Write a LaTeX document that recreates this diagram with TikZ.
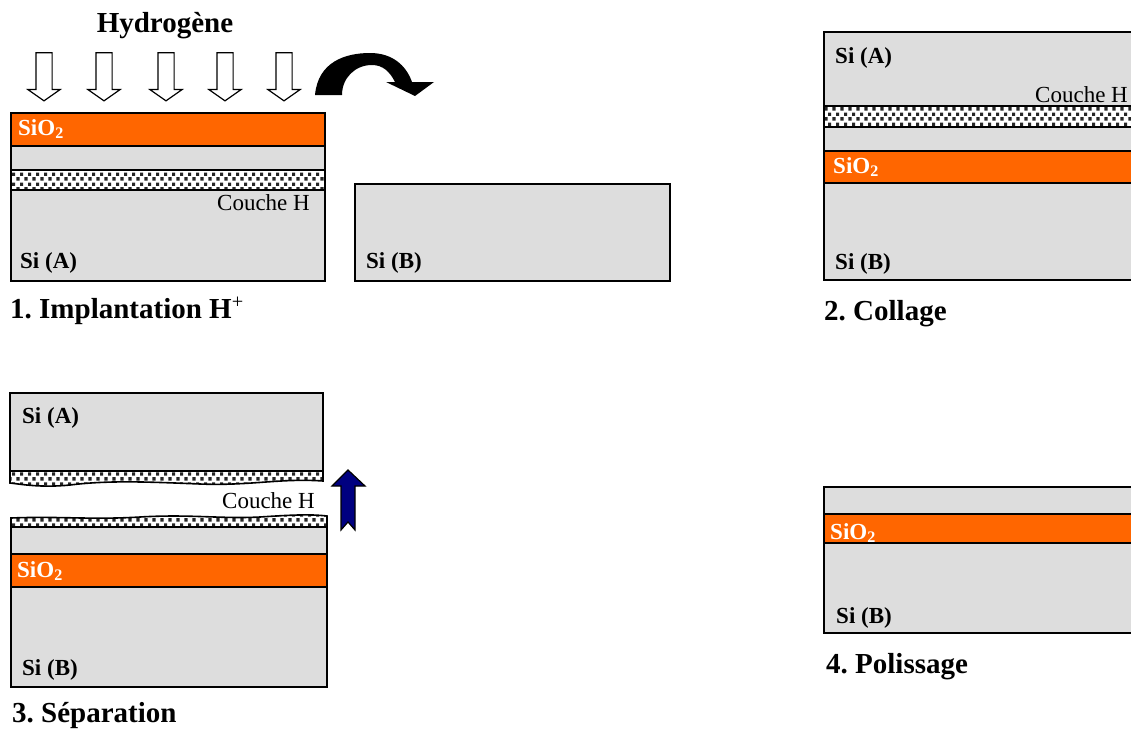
\documentclass[tikz,border=0pt]{standalone}
\usepackage{fontspec}
\setmainfont{Liberation Serif}
\usepackage{tikz}
\usetikzlibrary{shapes.arrows,patterns.meta}
\definecolor{sigray}{HTML}{DDDDDD}
\definecolor{oxorange}{HTML}{FF6600}
\definecolor{pushblue}{HTML}{000080}
\newcommand{\lblsize}{\fontsize{23}{26}\selectfont}
\newcommand{\ttlsize}{\fontsize{29}{33}\selectfont}
% grain de la couche implantee
\tikzdeclarepattern{
  name=hgrain,
  type=uncolored,
  bounding box={(0,0) and (8pt,10pt)},
  tile size={(8pt,10pt)},
  code={
    \fill (0.5pt,0.5pt) rectangle (4pt,4pt);
    \fill (4.5pt,5.5pt) rectangle (8pt,9pt);
  }
}
\tikzset{
  lay_si/.style = {draw=black, line width=1.6pt, fill=sigray},% silicium
  lay_ox/.style = {draw=black, line width=1.6pt, fill=oxorange},% oxyde
  lay_h/.style = {draw=black, line width=1.6pt, preaction={fill=white},
    pattern=hgrain, pattern color=black!85},% couche H
  lbl_si/.style = {anchor=base west, inner sep=0pt, font=\lblsize\bfseries},
  lbl_ox/.style = {lbl_si, text=white},
  lbl_h/.style = {anchor=base east, inner sep=0pt, font=\lblsize},
  lbl_step/.style = {anchor=base west, inner sep=0pt, font=\ttlsize\bfseries},
  ionarrow/.style = {single arrow, draw=black, line width=1.2pt, fill=white,
    inner sep=7.5pt, minimum height=48pt, minimum width=31pt,
    single arrow head extend=8pt, single arrow tip angle=110,
    shape border rotate=270}
}
\begin{document}
\begin{tikzpicture}[x=1pt,y=-1pt]
\clip (0,0) rectangle (1131,731);

% 1. implantation
\node [anchor=base, inner sep=0pt, font=\ttlsize\bfseries] (hydro) at (165,32) {Hydrogène};
\foreach \i/\x in {1/44,2/104,3/166,4/225,5/284}
  \node [ionarrow] (ion\i) at (\x,74) {};
\fill (315,95) .. controls (318,62) and (345,53) .. (370,53)
  .. controls (392,53) and (406,65) .. (412,82) -- (434,82) -- (415,96)
  -- (386,82) -- (395,82) .. controls (390,72) and (383,65) .. (372,65)
  .. controls (355,65) and (342,78) .. (342,95) -- cycle;
\draw [lay_si] (11,113) rectangle (325,281);
\draw [lay_ox] (11,113) rectangle (325,146);
\draw [lay_h] (11,170) rectangle (325,190);
\draw [lay_si] (355,184) rectangle (670,281);
\node [lbl_ox] (ox1) at (18,135) {SiO\textsubscript{2}};
\node [lbl_h] (h1) at (310,210) {Couche H};
\node [lbl_si] (a1) at (20,268) {Si (A)};
\node [lbl_si] (b1) at (366,268) {Si (B)};
\node [lbl_step] (t1) at (10,318) {1.\ Implantation H\textsuperscript{\mdseries +}};

% 2. collage
\draw [lay_si] (824,32) rectangle (1145,280);
\draw [lay_h] (824,106) rectangle (1145,127);
\draw [lay_ox] (824,151) rectangle (1145,183);
\node [lbl_si] (a2) at (835,63) {Si (A)};
\node [lbl_h] (h2) at (1128,102) {Couche H};
\node [lbl_ox] (ox2) at (833,173) {SiO\textsubscript{2}};
\node [lbl_si] (b2) at (835,269) {Si (B)};
\node [lbl_step] (t2) at (824,320) {2.\ Collage};

% 3. separation
\draw [lay_si] (10,393) rectangle (323,471);
\draw [lay_h] (10,471) -- (323,471) -- (323,481)
  .. controls (280,478) and (250,486) .. (200,484)
  .. controls (150,482) and (110,480) .. (70,485)
  .. controls (40,488) and (20,484) .. (10,483) -- cycle;
\draw [lay_h] (11,527) -- (11,518)
  .. controls (60,516) and (90,520) .. (140,517)
  .. controls (190,514) and (220,519) .. (260,517)
  .. controls (290,515) and (310,514) .. (327,516) -- (327,527) -- cycle;
\draw [lay_si] (11,527) rectangle (327,687);
\draw [lay_ox] (11,554) rectangle (327,587);
\node [lbl_si] (a3) at (22,423) {Si (A)};
\node [lbl_h] (h3) at (315,508) {Couche H};
\node [lbl_ox] (ox3) at (17,577) {SiO\textsubscript{2}};
\node [lbl_si] (b3) at (22,675) {Si (B)};
\draw [line width=1.2pt, fill=pushblue] (348,470) -- (365,486) -- (355,486)
  -- (355,530) -- (348,522) -- (341,530) -- (341,486) -- (332,486) -- cycle;
\node [lbl_step] (t3) at (12,722) {3.\ Séparation};

% 4. polissage
\draw [lay_si] (824,487) rectangle (1145,633);
\draw [lay_ox] (824,514) rectangle (1145,543);
\node [lbl_ox] (ox4) at (830,539) {SiO\textsubscript{2}};
\node [lbl_si] (b4) at (836,623) {Si (B)};
\node [lbl_step] (t4) at (826,673) {4.\ Polissage};
\end{tikzpicture}
\end{document}
